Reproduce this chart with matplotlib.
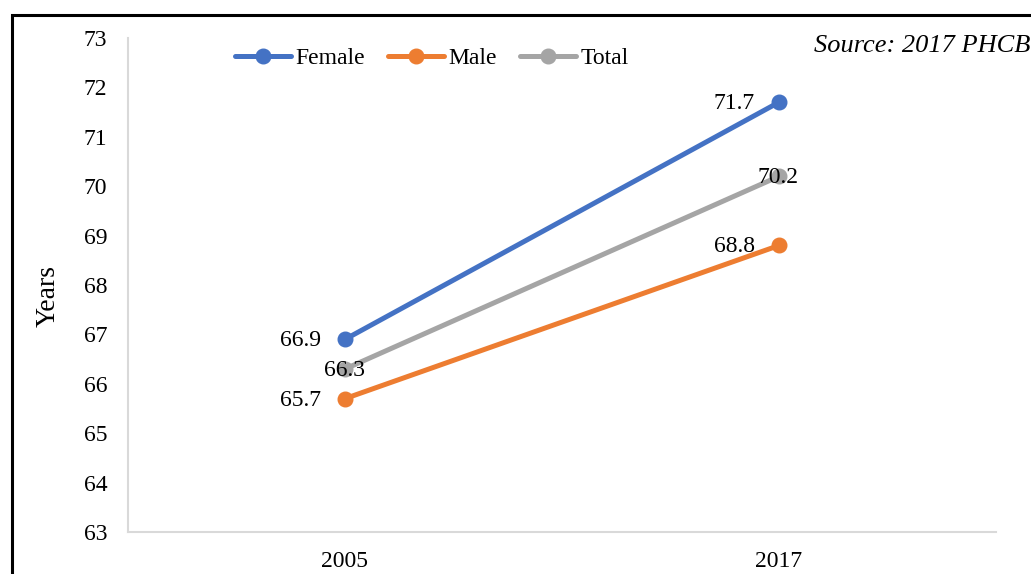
import matplotlib
matplotlib.use("Agg")
import matplotlib.pyplot as plt
from matplotlib.patches import Rectangle

years = ["2005", "2017"]
female = [66.9, 71.7]
male = [65.7, 68.8]
total = [66.3, 70.2]
series_names = ["Female", "Male", "Total"]
colors = ["#4472C4", "#ED7D31", "#A5A5A5"]
yticks = list(range(63, 74))

plt.rcParams['font.family'] = ['Liberation Serif', 'DejaVu Serif']

fig = plt.figure(figsize=(10.31, 5.74), dpi=100)
W, H = 1031, 574
ax = fig.add_axes([128 / W, 1 - 532 / H, (996 - 128) / W, (532 - 38) / H])

x = list(range(len(years)))
for name, vals, c in zip(series_names, [female, male, total], colors):
    ax.plot(x, vals, color=c, lw=3.6, marker='o', markersize=10.5,
            solid_capstyle='round', label=name, zorder=3)

# data labels
fs = 17
for xi, v in zip(x, female):
    ax.annotate(f"{v}", (xi, v), xytext=(-17.5, -1), textcoords='offset points',
                ha='right', va='center', fontsize=fs)
for xi, v in zip(x, male):
    ax.annotate(f"{v}", (xi, v), xytext=(-17.5, -1), textcoords='offset points',
                ha='right', va='center', fontsize=fs)
for xi, v in zip(x, total):
    ax.annotate(f"{v}", (xi, v), xytext=(-0.5, -1), textcoords='offset points',
                ha='center', va='center', fontsize=fs, zorder=4)

ax.set_xlim(-0.5, 1.5)
ax.set_ylim(63, 73)
ax.set_yticks(yticks)
ax.set_xticks(x)
ax.set_xticklabels(years)
ax.tick_params(axis='both', length=0, labelsize=fs, colors='black')
ax.tick_params(axis='y', pad=15)
ax.tick_params(axis='x', pad=14)
for s in ['top', 'right']:
    ax.spines[s].set_visible(False)
for s in ['left', 'bottom']:
    ax.spines[s].set_color('#D9D9D9')
    ax.spines[s].set_linewidth(1.5)

fig.text(48 / W, 1 - 296 / H, "Years", rotation=90, ha='center', va='center', fontsize=20)

leg = ax.legend(loc='center left', bbox_to_anchor=((235 - 128) / (996 - 128), 1 - (58 - 38) / (532 - 38)),
                ncol=3, frameon=False, fontsize=fs, handlelength=2.37, handletextpad=0.17,
                columnspacing=1.0, borderaxespad=0, borderpad=0)

fig.text(1030 / W, 1 - 46 / H, "Source: 2017 PHCB", ha='right', va='center',
         fontsize=19, style='italic')

# outer border
fig.patches.append(Rectangle((12 / W, -0.05), 1.2, 1 - 15 / H + 0.05, transform=fig.transFigure,
                             fill=False, edgecolor='black', lw=2.2, clip_on=False))

fig.savefig("out.png", dpi=100)
